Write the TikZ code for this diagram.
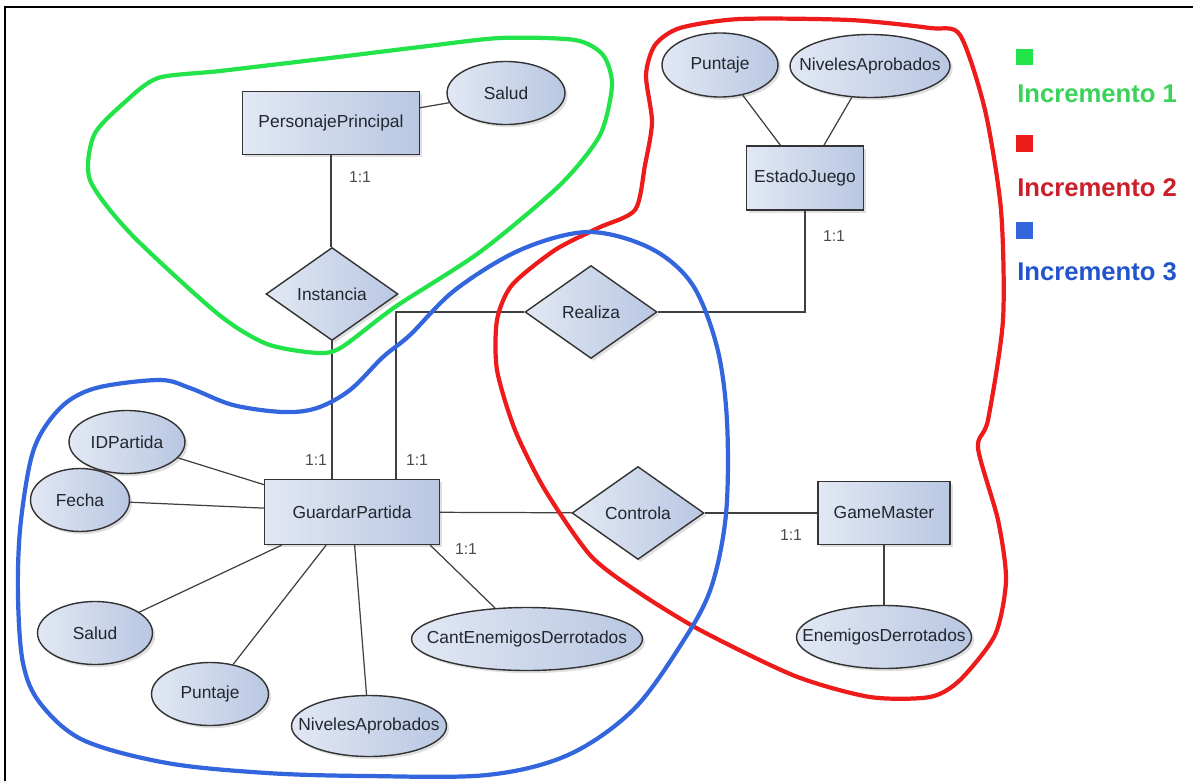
\documentclass[tikz,border=0pt]{standalone}
\usepackage{fontspec}
\setmainfont{Liberation Sans}
\usetikzlibrary{shapes.geometric, positioning, calc, shadows}
\definecolor{erfill}{HTML}{E2E8F4}
\definecolor{erfilldark}{HTML}{B9C7E2}
\definecolor{ertext}{HTML}{22272F}
\definecolor{zonagreen}{HTML}{22E34A}
\definecolor{zonared}{HTML}{EE1B1B}
\definecolor{zonablue}{HTML}{3366DD}
\definecolor{leggreen}{HTML}{3AD25A}
\definecolor{legred}{HTML}{CC1F2A}
\definecolor{legblue}{HTML}{2255CC}
\newcommand\erfont{\fontsize{9.9}{11}\selectfont}
\tikzstyle{entidad} = [draw=black!80, rectangle, left color=erfill, right color=erfilldark, minimum height=1.26cm, inner sep=0pt, text=ertext, font=\erfont, line width=0.8pt, drop shadow={shadow xshift=1.5pt, shadow yshift=-1.5pt, opacity=0.25}]
\tikzstyle{atributo} = [draw=black!80, ellipse, left color=erfill, right color=erfilldark, minimum height=1.26cm, inner xsep=-1cm, inner ysep=0pt, text=ertext, font=\erfont, line width=0.8pt, drop shadow={shadow xshift=1.5pt, shadow yshift=-1.5pt, opacity=0.25}]
\tikzstyle{relacion} = [draw=black!80, diamond, left color=erfill, right color=erfilldark, minimum width=2.64cm, minimum height=1.86cm, inner sep=0pt, text=ertext, font=\erfont, line width=0.8pt, drop shadow={shadow xshift=1.5pt, shadow yshift=-1.5pt, opacity=0.25}]
\tikzstyle{conector} = [line width=0.7pt, color=black!75]
\tikzstyle{card} = [font=\fontsize{9}{10}\selectfont, text=black!70]
\tikzstyle{zona} = [line width=2.4pt, line join=round]
\tikzstyle{leyenda} = [font=\fontsize{14.6}{16}\selectfont\bfseries, anchor=west, inner sep=0pt]

\begin{document}
\begin{tikzpicture}[x=0.02cm, y=-0.02cm]
    \useasboundingbox (0,0) rectangle (1193,781);
    \draw[line width=1.2pt] (5,781) -- (5,7) -- (1193,7);

    % Incremento 1
    \node (personaje) [entidad, minimum width=3.54cm] at (331,123) {PersonajePrincipal};
    \node (saludP) [atributo, minimum width=2.36cm] at (506,93) {Salud};
    \node (instancia) [relacion] at (332,294) {Instancia};

    % Incremento 2
    \node (estado) [entidad, minimum width=2.34cm, minimum height=1.28cm] at (805,178) {EstadoJuego};
    \node (puntajeE) [atributo, minimum width=2.32cm, minimum height=1.28cm] at (720,65) {Puntaje};
    \node (nivelesE) [atributo, minimum width=3.2cm, minimum height=1.26cm] at (870,66) {NivelesAprobados};
    \node (realiza) [relacion] at (591,312) {Realiza};
    \node (gamemaster) [entidad, minimum width=2.64cm] at (884,513) {GameMaster};
    \node (enemigos) [atributo, minimum width=3.5cm] at (884,637) {EnemigosDerrotados};

    % Incremento 3
    \node (guardar) [entidad, minimum width=3.5cm, minimum height=1.3cm] at (352,512) {GuardarPartida};
    \node (controla) [relacion] at (638,513) {Controla};
    \node (idpartida) [atributo, minimum width=2.32cm] at (127,442) {IDPartida};
    \node (fecha) [atributo, minimum width=1.98cm] at (80,500) {Fecha};
    \node (saludG) [atributo, minimum width=2.3cm] at (95,633) {Salud};
    \node (puntajeG) [atributo, minimum width=2.34cm] at (210,694) {Puntaje};
    \node (nivelesG) [atributo, minimum width=3.1cm, minimum height=1.22cm] at (369,726) {NivelesAprobados};
    \node (cant) [atributo, minimum width=4.62cm] at (527,639) {CantEnemigosDerrotados};

    \draw [conector] (personaje) -- (saludP);
    \draw [conector] (personaje.south) -- (personaje.south |- instancia.north);
    \draw [conector] (instancia.south) -- (instancia.south |- guardar.north);
    \draw [conector] ($(guardar.north)!0.5!(guardar.north east)$) |- (realiza.west);
    \draw [conector] (realiza.east) -| (estado.south);
    \draw [conector] (estado) -- (puntajeE);
    \draw [conector] (estado) -- (nivelesE);
    \draw [conector] (guardar) -- (controla);
    \draw [conector] (controla) -- (gamemaster);
    \draw [conector] (gamemaster) -- (enemigos);
    \draw [conector] (guardar) -- (idpartida);
    \draw [conector] (guardar) -- (fecha);
    \draw [conector] (guardar) -- (saludG);
    \draw [conector] (guardar) -- (puntajeG);
    \draw [conector] (guardar) -- (nivelesG);
    \draw [conector] (guardar.-23) -- (cant);

    \node (c1) [card] at (360,177) {1:1};
    \node (c2) [card] at (316,460) {1:1};
    \node (c3) [card] at (417,460) {1:1};
    \node (c4) [card] at (834,236) {1:1};
    \node (c5) [card] at (466,549) {1:1};
    \node (c6) [card] at (791,535) {1:1};

    % zonas
    \draw [zona, zonagreen] plot[smooth cycle, tension=0.45] coordinates {(158,78) (220,71) (330,58) (420,47) (500,38) (575,40) (603,55) (612,85) (600,135) (560,185) (480,252) (395,307) (342,347) (318,353) (267,344) (218,314) (131,234) (90,180) (94,135) (125,102)};
    \draw [zona, zonared] plot[smooth cycle, tension=0.45] coordinates {(652,122) (646,75) (655,45) (680,28) (740,19) (850,20) (930,28) (960,35) (985,110) (1001,210) (1003,320) (988,420) (978,448) (998,520) (1006,580) (995,635) (960,680) (930,697) (870,697) (795,676) (700,630) (635,590) (590,555) (545,490) (515,430) (497,370) (497,320) (512,285) (555,250) (598,228) (635,210) (645,165)};
    \draw [zona, zonablue] plot[smooth cycle, tension=0.55] coordinates {(588,232) (650,248) (692,284) (717,347) (727,421) (726,514) (711,588) (682,643) (633,710) (568,755) (487,775) (367,776) (267,773) (167,763) (83,740) (40,703) (23,663) (18,597) (20,530) (30,463) (43,430) (67,402) (100,387) (160,380) (190,388) (233,405) (283,412) (317,408) (350,390) (383,357) (410,335) (455,290) (520,250)};

    % leyenda
    \node (sq1) [fill=zonagreen, minimum size=0.34cm, inner sep=0pt] at (1024,57) {};
    \node (inc1) [leyenda, text=leggreen] at (1017,94) {Incremento 1};
    \node (sq2) [fill=zonared, minimum size=0.34cm, inner sep=0pt] at (1024,143) {};
    \node (inc2) [leyenda, text=legred] at (1017,188) {Incremento 2};
    \node (sq3) [fill=zonablue, minimum size=0.34cm, inner sep=0pt] at (1024,230) {};
    \node (inc3) [leyenda, text=legblue] at (1017,272) {Incremento 3};
\end{tikzpicture}
\end{document}
